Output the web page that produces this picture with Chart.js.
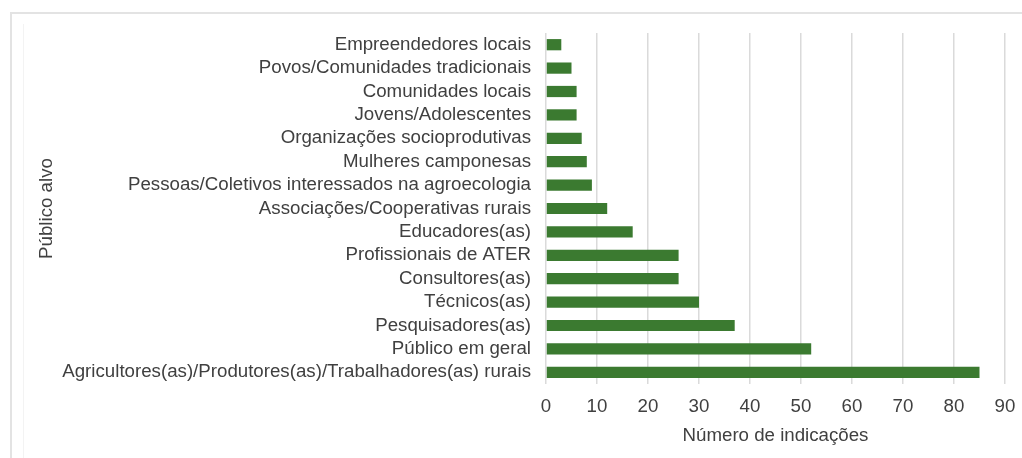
<!DOCTYPE html>
<html>
<head>
<meta charset="utf-8">
<script src="https://cdn.jsdelivr.net/npm/chart.js@4/dist/chart.umd.min.js"></script>
<style>
  html, body { margin: 0; padding: 0; background: #ffffff; }
  #wrap { width: 1022px; height: 458px; }
</style>
</head>
<body>
<div id="wrap"><canvas id="c" width="1022" height="458"></canvas></div>
<script>
// Target audiences, listed top to bottom
const categories = [
  "Empreendedores locais",
  "Povos/Comunidades tradicionais",
  "Comunidades locais",
  "Jovens/Adolescentes",
  "Organizações socioprodutivas",
  "Mulheres camponesas",
  "Pessoas/Coletivos interessados na agroecologia",
  "Associações/Cooperativas rurais",
  "Educadores(as)",
  "Profissionais de ATER",
  "Consultores(as)",
  "Técnicos(as)",
  "Pesquisadores(as)",
  "Público em geral",
  "Agricultores(as)/Produtores(as)/Trabalhadores(as) rurais"
];

// Number of mentions per audience
const indicacoes = [3, 5, 6, 6, 7, 8, 9, 12, 17, 26, 26, 30, 37, 52, 85];

// X axis range and step
const xMin = 0;
const xMax = 90;
const xStep = 10;

const axisTitleX = "Número de indicações";
const axisTitleY = "Público alvo";

const FONT = "'Liberation Sans', Arial, sans-serif";
const FONT_SIZE = 18.7;
const TEXT = "#404040";

// Light frame around the figure
const framePlugin = {
  id: 'frame',
  beforeDraw(chart) {
    const ctx = chart.ctx;
    ctx.save();
    ctx.fillStyle = '#ffffff';
    ctx.fillRect(0, 0, chart.width, chart.height);
    ctx.strokeStyle = '#e3e3e3';
    ctx.lineWidth = 2;
    ctx.beginPath();
    ctx.moveTo(11, chart.height);
    ctx.lineTo(11, 13);
    ctx.lineTo(chart.width, 13);
    ctx.stroke();
    ctx.strokeStyle = '#f3f3f3';
    ctx.lineWidth = 1;
    ctx.beginPath();
    ctx.moveTo(23.5, chart.height);
    ctx.lineTo(23.5, 24);
    ctx.stroke();
    ctx.restore();
  }
};

new Chart(document.getElementById('c'), {
  type: 'bar',
  data: {
    labels: categories,
    datasets: [{
      data: indicacoes,
      backgroundColor: '#3b7a30',
      borderWidth: 0,
      categoryPercentage: 1.0,
      barPercentage: 0.48
    }]
  },
  options: {
    indexAxis: 'y',
    responsive: false,
    animation: false,
    layout: { padding: { left: 26, right: 17, top: 33, bottom: 0 } },
    plugins: {
      legend: { display: false },
      tooltip: { enabled: false }
    },
    scales: {
      x: {
        min: xMin,
        max: xMax,
        ticks: {
          stepSize: xStep,
          color: TEXT,
          font: { family: FONT, size: FONT_SIZE },
          padding: 12
        },
        grid: {
          color: '#dadada',
          lineWidth: 1.5,
          drawTicks: false
        },
        border: { display: false },
        title: {
          display: true,
          text: axisTitleX,
          color: TEXT,
          font: { family: FONT, size: FONT_SIZE },
          padding: { top: 0, bottom: 11 }
        },
        afterFit(scale) {
          scale.height = 74;
          scale.paddingLeft = 0;
          scale.paddingRight = 0;
        }
      },
      y: {
        ticks: {
          color: TEXT,
          font: { family: FONT, size: FONT_SIZE },
          padding: 15,
          autoSkip: false
        },
        grid: { display: false, drawTicks: false },
        border: { display: false },
        title: {
          display: true,
          text: axisTitleY,
          color: TEXT,
          font: { family: FONT, size: FONT_SIZE },
          padding: { top: 10, bottom: 0 }
        },
        afterFit(scale) {
          scale.width = 520;
          scale.paddingTop = 0;
          scale.paddingBottom = 0;
        }
      }
    }
  },
  plugins: [framePlugin]
});
</script>
</body>
</html>
